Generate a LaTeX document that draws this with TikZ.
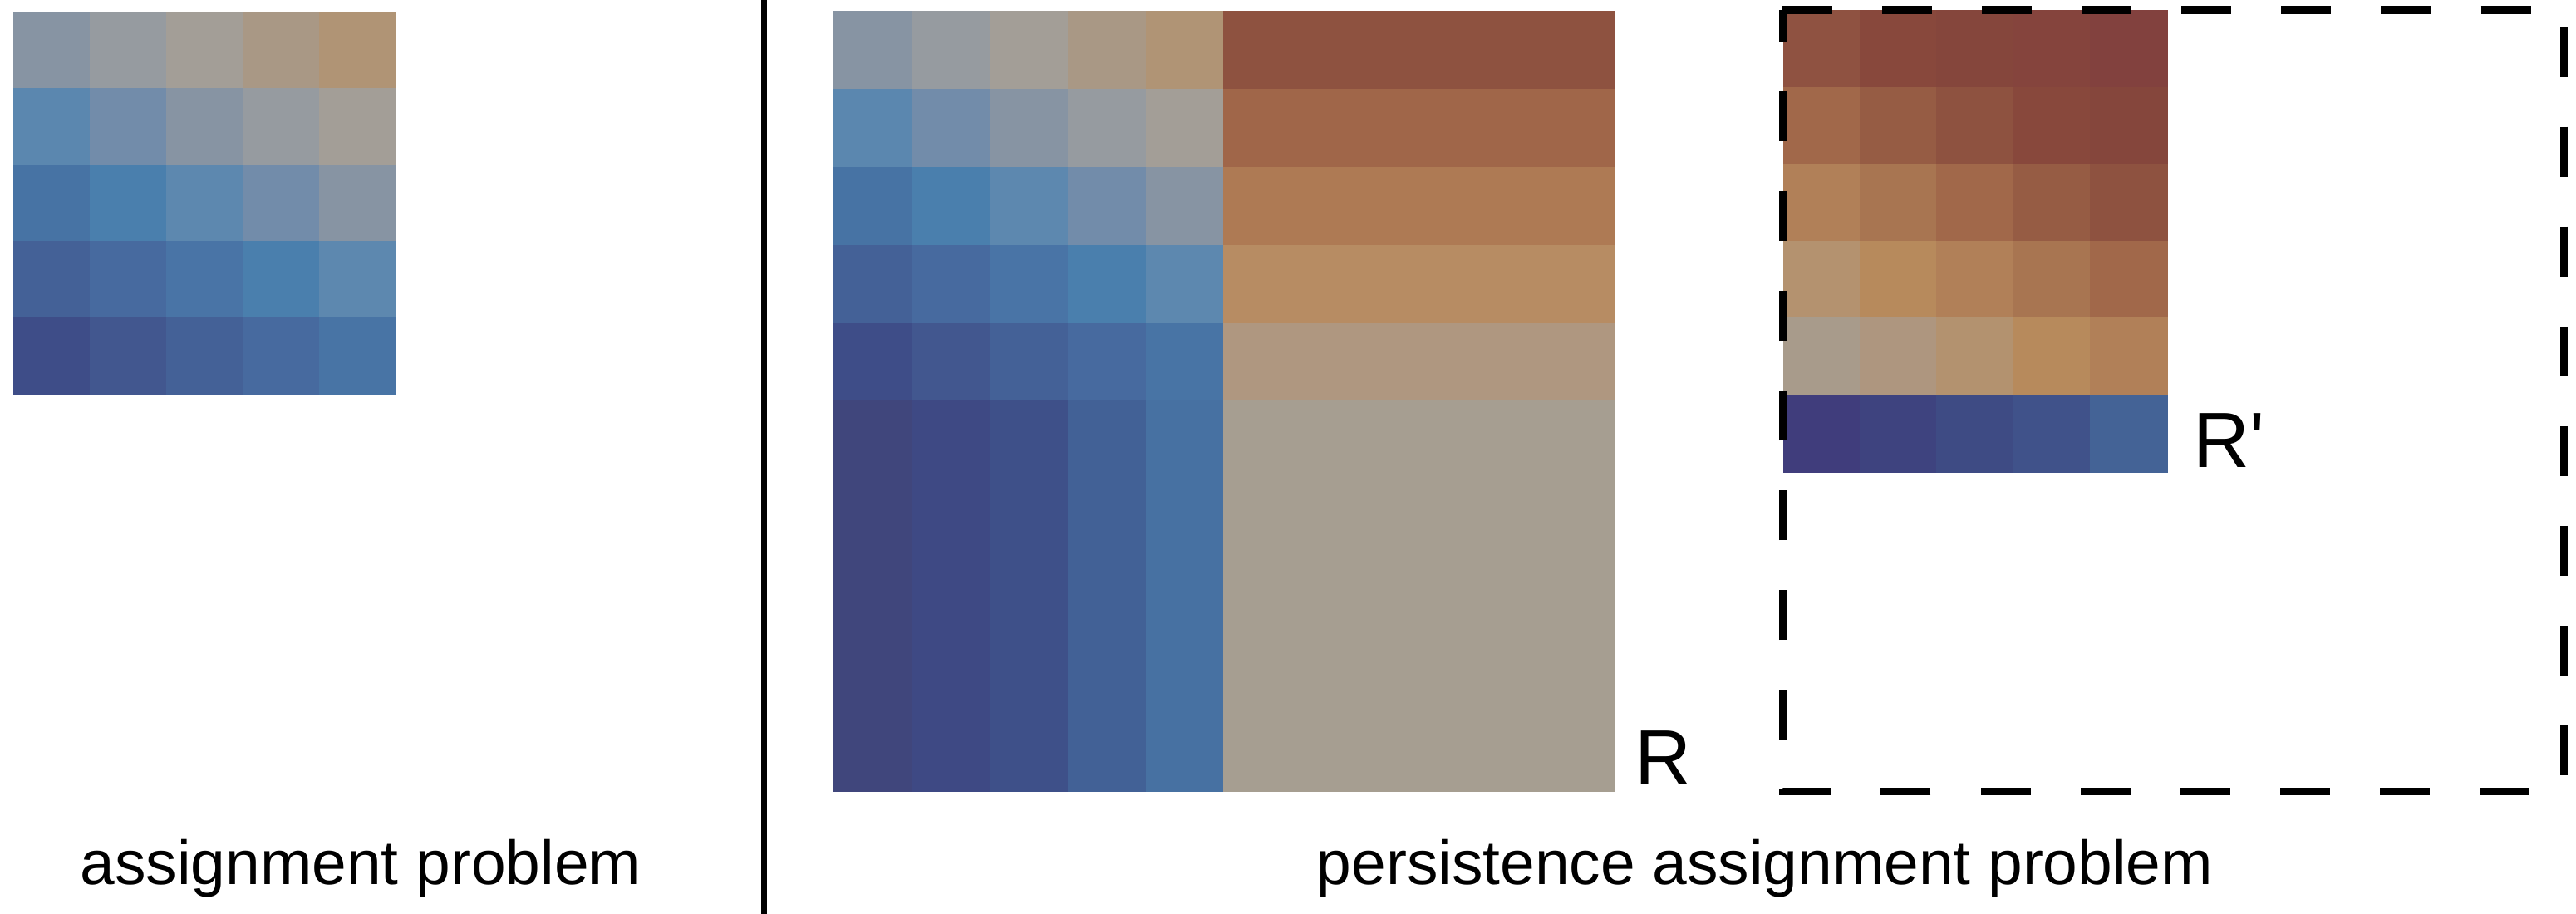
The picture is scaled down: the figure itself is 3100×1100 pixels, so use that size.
\documentclass[tikz,border=0pt]{standalone}
\usepackage{fontspec}
\setmainfont{Liberation Sans}
\newfontfamily\rawsans{Liberation Sans}
\definecolor{ga}{HTML}{8794A3}
\definecolor{gb}{HTML}{969BA0}
\definecolor{gc}{HTML}{A39E97}
\definecolor{gd}{HTML}{A99885}
\definecolor{ge}{HTML}{B09475}
\definecolor{ba}{HTML}{5B87AF}
\definecolor{bb}{HTML}{728CAA}
\definecolor{bc}{HTML}{4773A4}
\definecolor{bd}{HTML}{4A7FAD}
\definecolor{be}{HTML}{5D88AF}
\definecolor{bf}{HTML}{446197}
\definecolor{bg}{HTML}{476A9F}
\definecolor{bh}{HTML}{4974A6}
\definecolor{bi}{HTML}{3E4D88}
\definecolor{bj}{HTML}{42578F}
\definecolor{bk}{HTML}{4874A5}
\definecolor{ma}{HTML}{8E5240}
\definecolor{mb}{HTML}{A06649}
\definecolor{mc}{HTML}{AE7A54}
\definecolor{md}{HTML}{B78C63}
\definecolor{me}{HTML}{AF9780}
\definecolor{mf}{HTML}{A69E91}
\definecolor{na}{HTML}{40467C}
\definecolor{nb}{HTML}{3E4984}
\definecolor{nc}{HTML}{3E5089}
\definecolor{nd}{HTML}{426196}
\definecolor{ne}{HTML}{4771A2}
\definecolor{ra}{HTML}{8F5241}
\definecolor{rb}{HTML}{88483C}
\definecolor{rc}{HTML}{85463C}
\definecolor{rd}{HTML}{85443D}
\definecolor{re}{HTML}{82413E}
\definecolor{rf}{HTML}{A1684A}
\definecolor{rg}{HTML}{965C44}
\definecolor{rh}{HTML}{B18058}
\definecolor{ri}{HTML}{A87551}
\definecolor{rj}{HTML}{B4926F}
\definecolor{rk}{HTML}{B78A5C}
\definecolor{rl}{HTML}{A89B8B}
\definecolor{rm}{HTML}{AE967F}
\definecolor{rn}{HTML}{B3926F}
\definecolor{sa}{HTML}{403D7C}
\definecolor{sb}{HTML}{3E437F}
\definecolor{sc}{HTML}{3E4B84}
\definecolor{sd}{HTML}{40528A}
\definecolor{se}{HTML}{446396}
\tikzset{
  cellfill/.style={fill=#1, draw=#1, line width=0.3pt},
  caption/.style={inner sep=0pt, anchor=base, font=\fontsize{21.3pt}{25pt}\selectfont},
  rlabel/.style={inner sep=0pt, anchor=base west, font=\rawsans\fontsize{26.8pt}{30pt}\selectfont},
  dashbox/.style={draw=black, line width=0.09cm, dash pattern=on 0.6cm off 0.6cm},
}
\begin{document}
\begin{tikzpicture}[x=0.01cm, y=-0.01cm]
\useasboundingbox (0,0) rectangle (3100,1100);
% ---- left grid (assignment problem)
\foreach \row [count=\i from 0] in {{ga,gb,gc,gd,ge},{ba,bb,ga,gb,gc},{bc,bd,be,bb,ga},{bf,bg,bh,bd,be},{bi,bj,bf,bg,bk}}{
  \foreach \c [count=\j from 0] in \row {
    \fill[cellfill=\c] (17+\j*91.8, 15+\i*91.8) rectangle ++(91.8,91.8);
  }
}
% ---- middle grid (top-left 5x5)
\foreach \row [count=\i from 0] in {{ga,gb,gc,gd,ge},{ba,bb,ga,gb,gc},{bc,bd,be,bb,ga},{bf,bg,bh,bd,be},{bi,bj,bf,bg,bk}}{
  \foreach \c [count=\j from 0] in \row {
    \fill[cellfill=\c] (1004+\j*93.8, 14+\i*93.8) rectangle ++(93.8,93.8);
  }
}
% top-right rows
\foreach \c [count=\i from 0] in {ma,mb,mc,md,me}{
  \fill[cellfill=\c] (1473, 14+\i*93.8) rectangle ++(469,93.8);
}
% bottom-left columns
\foreach \c [count=\j from 0] in {na,nb,nc,nd,ne}{
  \fill[cellfill=\c] (1004+\j*93.8, 483) rectangle ++(93.8,469);
}
% bottom-right block
\fill[cellfill=mf] (1473,483) rectangle (1942,952);
\node[rlabel] (R) at (1967,944) {R};
% ---- right grid
\foreach \row [count=\i from 0] in {{ra,rb,rc,rd,re},{rf,rg,ma,rb,rc},{rh,ri,rf,rg,ma},{rj,rk,rh,ri,rf},{rl,rm,rn,rk,rh},{sa,sb,sc,sd,se}}{
  \foreach \c [count=\j from 0] in \row {
    \fill[cellfill=\c] (2146+\j*92.4, 13+\i*92.5) rectangle ++(92.4,92.5);
  }
}
\node[rlabel] (Rp) at (2639,562) {R'};
\draw[dashbox] (2145,12) -- (3085,12) -- (3085,952) -- (2145,952) -- cycle;
% ---- divider
\coordinate (dtop) at (919.5,0);
\coordinate (dbot) at (919.5,1100);
\draw[line width=0.07cm] (dtop) -- (dbot);
% ---- captions
\node[caption] (c1) at (434,1064) {assignment problem};
\node[caption] (c2) at (2124,1064) {persistence assignment problem};
\end{tikzpicture}
\end{document}
